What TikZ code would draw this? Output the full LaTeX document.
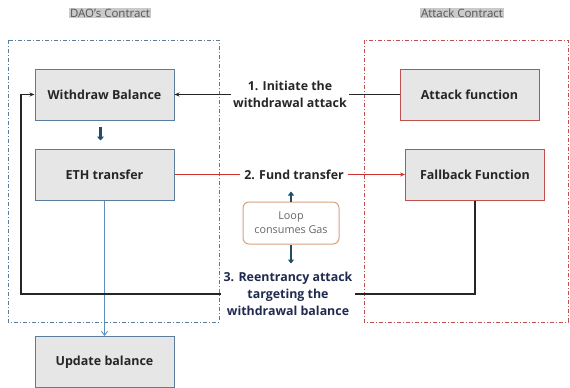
\documentclass[tikz,border=0pt]{standalone}
\usepackage{fontspec}
\setmainfont{Open Sans}
\usetikzlibrary{arrows.meta,calc}
\definecolor{boxfill}{HTML}{E6E6E6}
\definecolor{daoline}{HTML}{5A7D9C}
\definecolor{atkline}{HTML}{C0504D}
\definecolor{fundred}{HTML}{D0302E}
\definecolor{teal}{HTML}{1F4E66}
\definecolor{navy}{HTML}{1F2A4F}
\definecolor{loopline}{HTML}{D6A482}
\definecolor{hdrfill}{HTML}{CACACA}
\definecolor{hdrtext}{HTML}{555555}
\definecolor{updblue}{HTML}{5B8FC0}
\begin{document}
\begin{tikzpicture}[x=1pt,y=-1pt,
  frame/.style={line width=0.9pt, dash pattern=on 4pt off 2pt on 1pt off 2pt},
  daobox/.style={draw=daoline, fill=boxfill, line width=1pt, minimum width=139pt, minimum height=51pt, font=\bfseries\fontsize{12.5}{14}\selectfont, text=black!85},
  atkbox/.style={draw=atkline, fill=boxfill, line width=1pt, minimum width=139pt, minimum height=51pt, font=\bfseries\fontsize{12.5}{14}\selectfont, text=black!85},
  header/.style={fill=hdrfill, text=hdrtext, inner sep=1pt, font=\fontsize{11.5}{13}\selectfont},
  steplabel/.style={align=center, inner sep=2pt, font=\bfseries\fontsize{12.4}{17}\selectfont, text=black!85},
  tip/.style={-{Stealth[length=5pt,width=4pt]}},
  fatarrow/.style={teal, line width=2.6pt, -{Triangle[length=4pt,width=7pt]}}
]
\useasboundingbox (0,0) rectangle (570,388);
\fill[white] (0,0) rectangle (570,388);

% contract frames and headers
\draw[frame, daoline] (8,40) rectangle (219,322);
\draw[frame, atkline] (364,40) rectangle (568,322);
\node[header] (hdao) at (110,13) {DAO's Contract};
\node[header] (hatk) at (462,13) {Attack Contract};

% function boxes
\node[daobox] (withdraw) at (104.5,94.5) {Withdraw Balance};
\node[daobox] (eth) at (104.5,174.5) {ETH transfer};
\node[daobox] (update) at (104.5,362) {Update balance};
\node[atkbox] (attack) at (469.5,94.5) {Attack function};
\node[atkbox] (fallback) at (475,174.5) {Fallback Function};

% step labels
\node[steplabel] (lab1) at (290,94.5) {1. Initiate the\\withdrawal attack};
\node[steplabel, inner xsep=4pt] (lab2) at (294,175) {2. Fund transfer};
\node[steplabel, text=navy] (lab3) at (288,294) {3. Reentrancy attack\\targeting the\\withdrawal balance};

% gas loop note
\node[draw=loopline, line width=1pt, rounded corners=6pt, fill=white, minimum width=96pt, minimum height=42pt, align=center, text=black!60, font=\fontsize{10.8}{14}\selectfont] (loop) at (291,223) {Loop\\consumes Gas};

% step 1: attack function calls withdraw
\draw[line width=1.3pt, black!85] (attack.west) -- (lab1.east |- attack.west);
\draw[line width=1.3pt, black!85, tip] (lab1.west |- withdraw.east) -- (withdraw.east);

% internal flow
\draw[fatarrow] ($(withdraw.south)+(-4,6)$) coordinate (fa1) -- ($(eth.north)+(-4,-8)$) coordinate (fa2);
\draw[updblue, line width=0.9pt, -{Straight Barb[length=4pt,width=6pt]}] (eth.south) -- (update.north);

% step 2: funds sent to fallback
\draw[fundred, line width=1.3pt] (eth.east) -- (lab2.west |- eth.east);
\draw[fundred, line width=1.3pt, tip] (lab2.east |- fallback.west) -- (fallback.west);

% step 3: fallback re-enters withdraw
\coordinate (fb) at (fallback.south |- lab3.east);
\coordinate (lc) at (21,294);
\draw[line width=1.3pt, black!85] (fallback.south) -- (fb) -- (lab3.east);
\draw[line width=1.3pt, black!85, tip] (lab3.west) -- (lc) -- (lc |- withdraw.west) -- (withdraw.west);

% loop arrows
\draw[teal, line width=2pt, -{Triangle[length=4pt,width=6pt]}] (loop.north) -- ++(0,-10);
\draw[teal, line width=2pt, -{Triangle[length=4pt,width=6pt]}] (loop.south) -- ++(0,19);
\end{tikzpicture}
\end{document}
